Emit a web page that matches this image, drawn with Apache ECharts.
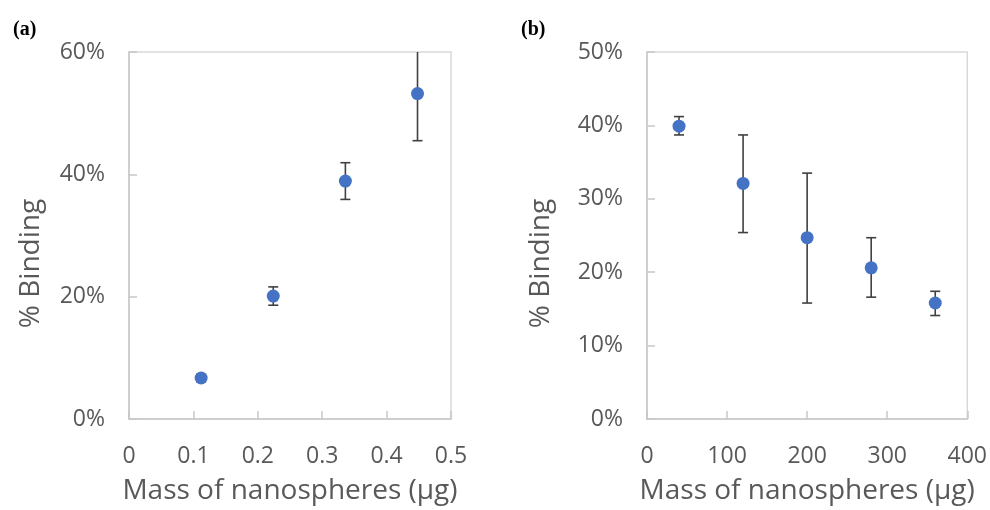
<!DOCTYPE html>
<html>
<head>
<meta charset="utf-8">
<script src="https://cdn.jsdelivr.net/npm/echarts@6/dist/echarts.min.js"></script>
<style>
  html, body { margin: 0; padding: 0; background: #fff; }
  #chart { width: 990px; height: 510px; }
</style>
</head>
<body>
<div id="chart"></div>
<script>
// panel (a): mass in µg vs % binding
const massA = [0.112, 0.224, 0.336, 0.448];
const bindA = [6.7, 20.1, 38.9, 53.2];
const errA = [0.6, 1.5, 3.0, 7.7];

// panel (b)
const massB = [40, 120, 200, 280, 360];
const bindB = [39.9, 32.1, 24.7, 20.6, 15.8];
const errLowB = [1.2, 6.7, 8.9, 4.0, 1.7];
const errHighB = [1.3, 6.6, 8.8, 4.1, 1.6];

const grey = '#595959';
const lineGrey = '#c8c8c8';
const blue = '#4472c4';
const font = 'Open Sans';

function errorData(xs, ys, lo, hi) {
  return xs.map((x, i) => [x, ys[i] - lo[i], ys[i] + hi[i]]);
}

function errorBars(params, api) {
  const x = api.value(0);
  const lowPt = api.coord([x, api.value(1)]);
  const highPt = api.coord([x, api.value(2)]);
  const cap = 5;
  const style = { stroke: '#404040', lineWidth: 1.6 };
  return {
    type: 'group',
    children: [
      { type: 'line', shape: { x1: highPt[0], y1: highPt[1], x2: lowPt[0], y2: lowPt[1] }, style: style },
      { type: 'line', shape: { x1: highPt[0] - cap, y1: highPt[1], x2: highPt[0] + cap, y2: highPt[1] }, style: style },
      { type: 'line', shape: { x1: lowPt[0] - cap, y1: lowPt[1], x2: lowPt[0] + cap, y2: lowPt[1] }, style: style }
    ]
  };
}

function xAxisCfg(idx, max, interval, decimals) {
  return {
    type: 'value', gridIndex: idx, min: 0, max: max, interval: interval,
    name: 'Mass of nanospheres (µg)', nameLocation: 'middle', nameGap: 58,
    nameTextStyle: { color: grey, fontSize: 28, fontFamily: font },
    axisLine: { show: true, lineStyle: { color: lineGrey, width: 1.5 } },
    axisTick: { show: true, inside: true, length: 8, lineStyle: { color: lineGrey, width: 1.5 } },
    axisLabel: {
      color: grey, fontSize: 23, fontFamily: font, margin: 26,
      formatter: v => (v === 0 ? '0' : v.toFixed(decimals))
    },
    splitLine: { show: false }
  };
}

function yAxisCfg(idx, max, interval, nameGap) {
  return {
    type: 'value', gridIndex: idx, min: 0, max: max, interval: interval,
    name: '% Binding', nameLocation: 'middle', nameGap: nameGap,
    // the title sits lower than the middle of the axis
    nameTextStyle: { color: grey, fontSize: 28, fontFamily: font, padding: [0, 56, 0, 0] },
    axisLine: { show: true, lineStyle: { color: lineGrey, width: 1.5 } },
    axisTick: { show: true, inside: true, length: 8, lineStyle: { color: lineGrey, width: 1.5 } },
    axisLabel: { color: grey, fontSize: 23, fontFamily: font, margin: 24, formatter: v => v + '%' },
    splitLine: { show: false }
  };
}

const chart = echarts.init(document.getElementById('chart'), null, { renderer: 'canvas' });
chart.setOption({
  backgroundColor: '#fff',
  animation: false,
  title: [
    { text: '(a)', left: 8, top: 15, textStyle: { fontFamily: 'Liberation Serif', fontWeight: 'bold', fontSize: 20, color: '#000' } },
    { text: '(b)', left: 516, top: 15, textStyle: { fontFamily: 'Liberation Serif', fontWeight: 'bold', fontSize: 20, color: '#000' } }
  ],
  grid: [
    { left: 129, top: 52, width: 322, height: 371, show: true, borderColor: '#d9d9d9', borderWidth: 1.5 },
    { left: 647, top: 52, width: 322, height: 372, show: true, borderColor: '#d9d9d9', borderWidth: 1.5 }
  ],
  xAxis: [xAxisCfg(0, 0.5, 0.1, 1), xAxisCfg(1, 400, 100, 0)],
  yAxis: [yAxisCfg(0, 60, 20, 84), yAxisCfg(1, 50, 10, 92)],
  series: [
    {
      type: 'custom', xAxisIndex: 0, yAxisIndex: 0, clip: true,
      renderItem: errorBars, data: errorData(massA, bindA, errA, errA), z: 2
    },
    {
      type: 'scatter', xAxisIndex: 0, yAxisIndex: 0, symbolSize: 13,
      itemStyle: { color: blue, opacity: 1 }, data: massA.map((x, i) => [x, bindA[i]]), z: 3
    },
    {
      type: 'custom', xAxisIndex: 1, yAxisIndex: 1, clip: true,
      renderItem: errorBars, data: errorData(massB, bindB, errLowB, errHighB), z: 2
    },
    {
      type: 'scatter', xAxisIndex: 1, yAxisIndex: 1, symbolSize: 13,
      itemStyle: { color: blue, opacity: 1 }, data: massB.map((x, i) => [x, bindB[i]]), z: 3
    }
  ]
});
</script>
</body>
</html>
